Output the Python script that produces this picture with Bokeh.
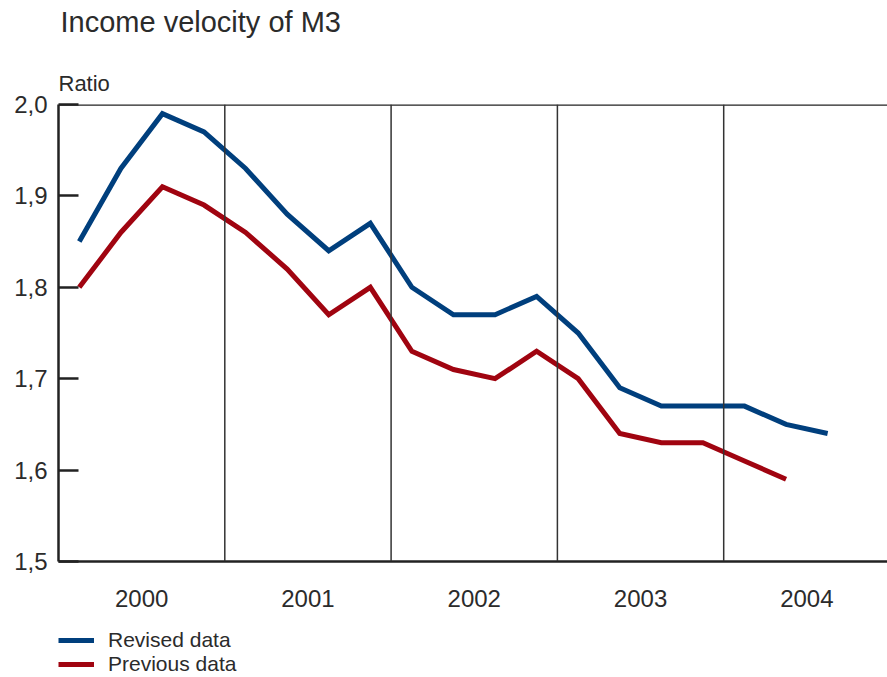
from bokeh.plotting import figure
from bokeh.layouts import column
from bokeh.models import (Span, Title, Legend, LegendItem, FixedTicker,
                          CustomJSTickFormatter, Range1d)
from bokeh.embed import file_html
from bokeh.resources import INLINE

# ---- data (quarterly, 2000Q1 ..) ----
years = ["2000", "2001", "2002", "2003", "2004"]
revised = [1.85, 1.93, 1.99, 1.97, 1.93, 1.88, 1.84, 1.87, 1.80, 1.77,
           1.77, 1.79, 1.75, 1.69, 1.67, 1.67, 1.67, 1.65, 1.64]
previous = [1.80, 1.86, 1.91, 1.89, 1.86, 1.82, 1.77, 1.80, 1.73, 1.71,
            1.70, 1.73, 1.70, 1.64, 1.63, 1.63, 1.61, 1.59]
series_names = ["Revised data", "Previous data"]
y_ticks = [1.5, 1.6, 1.7, 1.8, 1.9, 2.0]

FONT = "Liberation Sans"
TXT = "#2b2b2b"
BLUE = "#003f7d"
RED = "#a00410"
FS = "24px"

x_rev = [i + 0.5 for i in range(len(revised))]
x_prev = [i + 0.5 for i in range(len(previous))]

p = figure(frame_width=829, frame_height=457,
           output_backend="svg", toolbar_location=None,
           x_range=Range1d(0, 19.94), y_range=Range1d(1.5, 2.0),
           min_border_left=58, min_border_right=0, min_border_top=0,
           min_border_bottom=0)
p.outline_line_color = None
p.grid.visible = False
p.background_fill_color = "white"

# axes
ya = p.yaxis[0]
ya.ticker = FixedTicker(ticks=y_ticks)
ya.formatter = CustomJSTickFormatter(code="return tick.toFixed(1).replace('.', ',');")
ya.major_tick_in = 20
ya.major_tick_out = 0
ya.minor_tick_line_color = None
ya.axis_line_width = 2.5
ya.axis_line_color = "#222222"
ya.major_tick_line_width = 2.5
ya.major_tick_line_color = "#222222"
ya.major_label_standoff = 11
ya.major_label_text_font = FONT
ya.major_label_text_font_size = FS
ya.major_label_text_color = TXT

xa = p.xaxis[0]
xa.ticker = FixedTicker(ticks=[4 * i + 2 for i in range(len(years))])
xa.major_label_overrides = {4 * i + 2: y for i, y in enumerate(years)}
xa.major_tick_line_color = None
xa.minor_tick_line_color = None
xa.axis_line_width = 2.5
xa.axis_line_color = "#222222"
xa.major_label_standoff = 22
xa.major_label_text_font = FONT
xa.major_label_text_font_size = FS
xa.major_label_text_color = TXT
xa.axis_label = " "
xa.axis_label_text_font_size = "10px"
xa.axis_label_standoff = 5

# top frame line and year separators
p.add_layout(Span(location=2.0, dimension="width", line_color="#222222", line_width=2.5))
for i in range(1, len(years)):
    p.add_layout(Span(location=4 * i, dimension="height", line_color="#333333", line_width=1.5))

p.line(x_rev, revised, line_color=BLUE, line_width=5, line_join="miter")
p.line(x_prev, previous, line_color=RED, line_width=5, line_join="miter")

# "Ratio" next to the plot, a spacer, then the main title (outermost)
p.add_layout(Title(text="Ratio", text_font=FONT, text_font_size="22px",
                   text_font_style="normal", text_color=TXT,
                   offset=0, standoff=17), "above")
p.add_layout(Title(text=" ", text_font=FONT, text_font_size="10px",
                   standoff=6), "above")
p.title.text = "Income velocity of M3"
p.title.text_font = FONT
p.title.text_font_size = "29px"
p.title.text_font_style = "normal"
p.title.text_color = TXT
p.title.offset = 2
p.title.standoff = 7

# legend strip below the chart (series drawn outside its view, only the key shows)
leg = figure(width=887, height=50, output_backend="svg", toolbar_location=None,
             x_axis_type=None, y_axis_type=None,
             x_range=Range1d(0, 1), y_range=Range1d(0, 1),
             min_border_left=58, min_border_right=0, min_border_top=0,
             min_border_bottom=0)
leg.outline_line_color = None
leg.grid.visible = False
lr1 = leg.line(x_rev, revised, line_color=BLUE, line_width=5)
lr2 = leg.line(x_prev, previous, line_color=RED, line_width=5)
legend = Legend(items=[LegendItem(label=series_names[0], renderers=[lr1]),
                       LegendItem(label=series_names[1], renderers=[lr2])],
                location="top_left", orientation="vertical",
                glyph_width=36, glyph_height=20, spacing=0, padding=0, margin=0,
                label_standoff=14, border_line_alpha=0, background_fill_alpha=0,
                label_text_font=FONT, label_text_font_size="21px",
                label_text_color=TXT)
leg.add_layout(legend, "center")

open("out.html", "w").write(file_html(column(p, leg, spacing=0), INLINE))
